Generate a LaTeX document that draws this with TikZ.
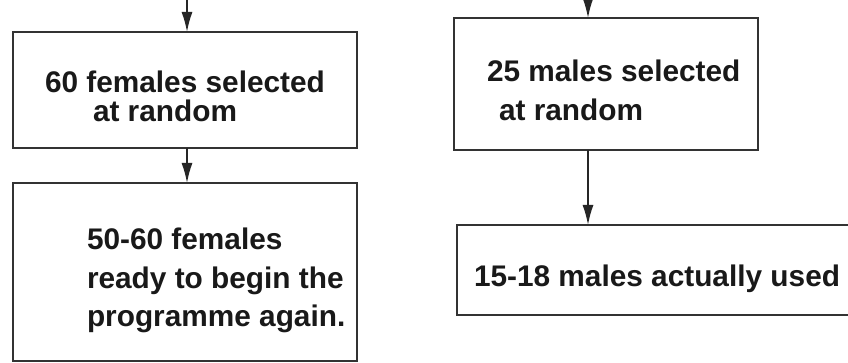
\documentclass[tikz,border=0pt]{standalone}
\usepackage{fontspec}
\setmainfont{Liberation Sans}
\usetikzlibrary{arrows.meta}
\begin{document}
\begin{tikzpicture}[x=1pt,y=-1pt,
  box/.style={draw=black!80,line width=1.6pt,anchor=north west,outer sep=0pt,inner sep=0pt},
  txt/.style={anchor=base west,inner sep=0pt,outer sep=0pt,text=black!90,font=\fontsize{29.8}{28}\selectfont\bfseries},
  arr/.style={draw=black!85,line width=1.6pt,-{Latex[length=20pt,width=11pt]}}]
\clip (0,0) rectangle (848,363);
\fill[white] (0,0) rectangle (848,363);
% boxes
\node[box,minimum width=344pt,minimum height=116pt] (a) at (13,32) {};
\node[box,minimum width=344pt,minimum height=178pt] (b) at (13,183) {};
\node[box,minimum width=304pt,minimum height=132pt] (c) at (454,18) {};
\node[box,minimum width=420pt,minimum height=90pt] (d) at (457,225) {};
% texts
\node[txt] (a1) at (45,93) {60 females selected};
\node[txt] (a2) at (93,122) {at random};
\node[txt] (b1) at (87,250) {50-60 females};
\node[txt] (b2) at (87,288) {ready to begin the};
\node[txt] (b3) at (87,326) {programme again.};
\node[txt] (c1) at (487,82) {25 males selected};
\node[txt] (c2) at (499,121) {at random};
\node[txt] (d1) at (474,287) {15-18 males actually used};
% connectors
\coordinate (ain) at (187,-6);
\coordinate (cin) at (588,-12);
\draw[arr] (ain) -- (ain |- a.north);
\draw[arr] (ain |- a.south) -- (ain |- b.north);
\draw[arr] (cin) -- (cin |- c.north);
\draw[arr] (cin |- c.south) -- (cin |- d.north);
\end{tikzpicture}
\end{document}
